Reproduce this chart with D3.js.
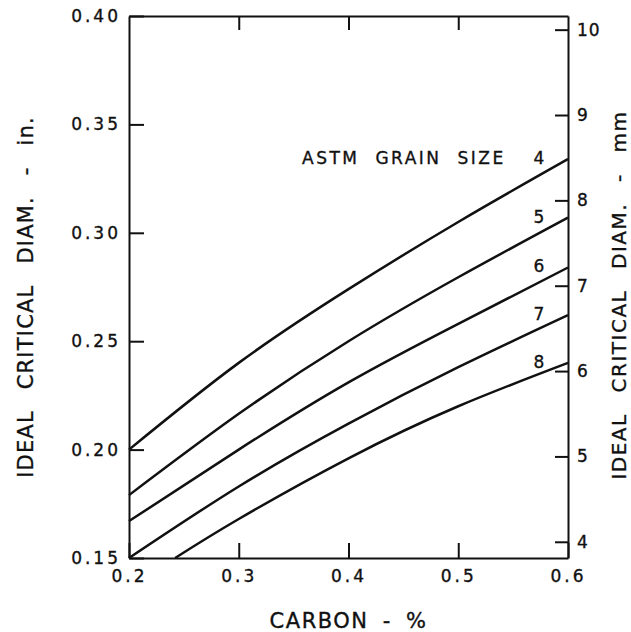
<!DOCTYPE html>
<html>
<head>
<meta charset="utf-8">
<script src="https://cdn.jsdelivr.net/npm/d3@7"></script>
<style>
  body { margin: 0; background: #fff; }
  text { font-family: "DejaVu Sans", sans-serif; fill: #111; stroke: #111; stroke-width: 0.35px; }
</style>
</head>
<body>
<div id="chart"></div>
<script>
// values (carbon %, ideal critical diameter in inches)
const carbon = [0.2, 0.3, 0.4, 0.5, 0.6];
const carbon8 = [0.242, 0.3, 0.4, 0.5, 0.6];
const grain4 = [0.200, 0.240, 0.274, 0.305, 0.334];
const grain5 = [0.179, 0.2165, 0.250, 0.2795, 0.307];
const grain6 = [0.167, 0.200, 0.231, 0.258, 0.284];
const grain7 = [0.150, 0.183, 0.212, 0.238, 0.262];
const grain8 = [0.150, 0.168, 0.196, 0.220, 0.240];

const xTicks = [0.2, 0.3, 0.4, 0.5, 0.6];
const yTicks = [0.15, 0.20, 0.25, 0.30, 0.35, 0.40];
const mmTicks = [4, 5, 6, 7, 8, 9, 10];

const series = [
  { label: "4", xs: carbon, ys: grain4 },
  { label: "5", xs: carbon, ys: grain5 },
  { label: "6", xs: carbon, ys: grain6 },
  { label: "7", xs: carbon, ys: grain7 },
  { label: "8", xs: carbon8, ys: grain8 }
];

const width = 631;
const height = 632;
const plotLeft = 129, plotRight = 568, plotTop = 16, plotBottom = 558;

const svg = d3.select("#chart")
  .append("svg")
  .attr("width", width)
  .attr("height", height);

const x = d3.scaleLinear().domain([0.2, 0.6]).range([plotLeft, plotRight]);
const y = d3.scaleLinear().domain([0.15, 0.40]).range([plotBottom, plotTop]);
// mm scale on the right, same physical range
const yMm = d3.scaleLinear().domain([0.15 * 25.4, 0.40 * 25.4]).range([plotBottom, plotTop]);

function styleAxis(g) {
  g.select(".domain").attr("stroke", "#111").attr("stroke-width", 2);
  g.selectAll(".tick line").attr("stroke", "#111").attr("stroke-width", 2);
  g.selectAll(".tick text")
    .attr("fill", "#111")
    .style("font-family", "DejaVu Sans")
    .style("font-size", "17px")
    .style("letter-spacing", "3px");
}

// left axis (inches)
svg.append("g")
  .attr("transform", `translate(${plotLeft},0)`)
  .call(d3.axisLeft(y).tickValues(yTicks).tickFormat(d3.format(".2f"))
    .tickSizeInner(-15).tickSizeOuter(0).tickPadding(8))
  .call(styleAxis);

// bottom axis
svg.append("g")
  .attr("transform", `translate(0,${plotBottom})`)
  .call(d3.axisBottom(x).tickValues(xTicks).tickFormat(d3.format(".1f"))
    .tickSizeInner(-15).tickSizeOuter(0).tickPadding(12))
  .call(styleAxis);

// top axis, ticks only
svg.append("g")
  .attr("transform", `translate(0,${plotTop})`)
  .call(d3.axisTop(x).tickValues(xTicks.slice(1, -1)).tickFormat("")
    .tickSizeInner(-14).tickSizeOuter(0))
  .call(styleAxis);

// right axis (mm)
svg.append("g")
  .attr("transform", `translate(${plotRight},0)`)
  .call(d3.axisRight(yMm).tickValues(mmTicks).tickFormat(d3.format("d"))
    .tickSizeInner(-13).tickSizeOuter(0).tickPadding(9))
  .call(styleAxis)
  .call(g => g.selectAll(".tick text").style("letter-spacing", "1px"));

// curves
const line = d3.line()
  .x(d => x(d[0]))
  .y(d => y(d[1]))
  .curve(d3.curveNatural);

svg.selectAll(".curve")
  .data(series)
  .enter()
  .append("path")
  .attr("class", "curve")
  .attr("fill", "none")
  .attr("stroke", "#111")
  .attr("stroke-width", 2.5)
  .attr("d", s => line(s.xs.map((c, i) => [c, s.ys[i]])));

// grain size labels near right ends
svg.selectAll(".glabel")
  .data(series)
  .enter()
  .append("text")
  .attr("class", "glabel")
  .attr("x", x(0.6) - 29)
  .attr("y", s => y(s.ys[s.ys.length - 1]) + 5)
  .attr("text-anchor", "middle")
  .style("font-size", "17px")
  .text(s => s.label);

svg.append("text")
  .attr("x", 302)
  .attr("y", y(grain4[grain4.length - 1]) + 5)
  .style("font-size", "17px")
  .style("letter-spacing", "2.5px")
  .style("word-spacing", "8px")
  .text("ASTM GRAIN SIZE");

// axis titles
svg.append("text")
  .attr("x", (plotLeft + plotRight) / 2)
  .attr("y", 628)
  .attr("text-anchor", "middle")
  .style("font-size", "21px")
  .style("letter-spacing", "1.5px")
  .style("word-spacing", "6px")
  .text("CARBON - %");

svg.append("text")
  .attr("transform", `translate(33,${(plotTop + plotBottom) / 2 + 10}) rotate(-90)`)
  .attr("text-anchor", "middle")
  .style("font-size", "21px")
  .style("letter-spacing", "1.2px")
  .style("word-spacing", "13px")
  .text("IDEAL CRITICAL DIAM. - in.");

svg.append("text")
  .attr("transform", `translate(626,${(plotTop + plotBottom) / 2 + 8}) rotate(-90)`)
  .attr("text-anchor", "middle")
  .style("font-size", "20px")
  .style("letter-spacing", "1.5px")
  .style("word-spacing", "13px")
  .text("IDEAL CRITICAL DIAM. - mm");
</script>
</body>
</html>
